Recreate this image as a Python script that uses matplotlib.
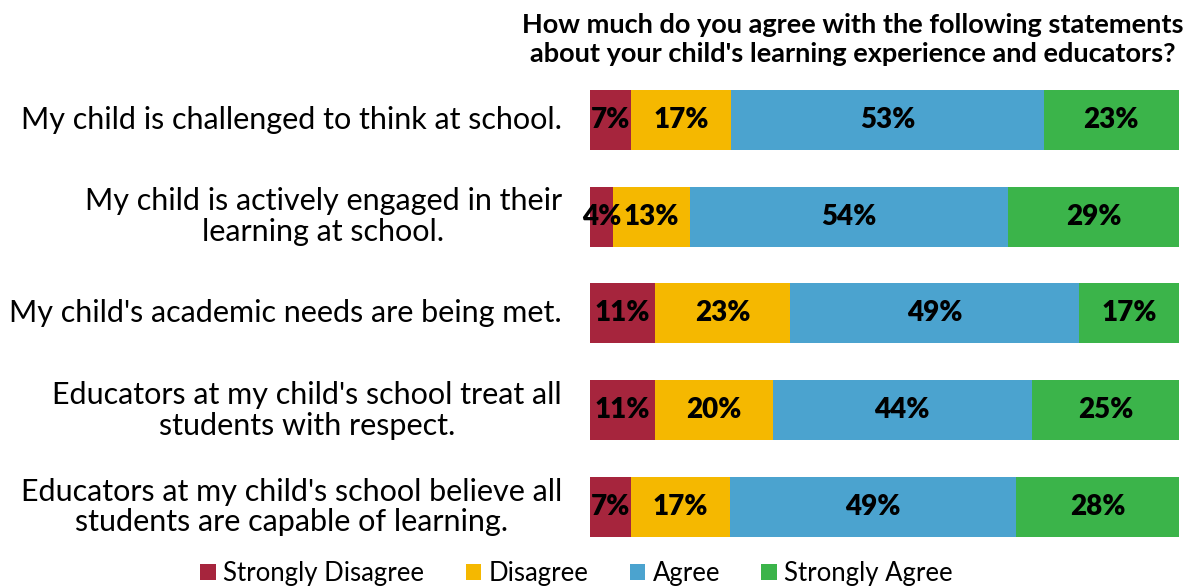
import matplotlib.pyplot as plt
import numpy as np
from matplotlib.patches import Patch

# survey statements, top to bottom
statements = [
    "My child is challenged to think at school.",
    "My child is actively engaged in their\nlearning at school.",
    "My child's academic needs are being met.",
    "Educators at my child's school treat all\nstudents with respect.",
    "Educators at my child's school believe all\nstudents are capable of learning.",
]

# percentages per response level
strongly_disagree = [7, 4, 11, 11, 7]
disagree = [17, 13, 23, 20, 17]
agree = [53, 54, 49, 44, 49]
strongly_agree = [23, 29, 17, 25, 28]

levels = ["Strongly Disagree", "Disagree", "Agree", "Strongly Agree"]
colors = ["#A6253D", "#F5B800", "#4BA3CF", "#3BB44A"]

title = ("How much do you agree with the following statements\n"
         "about your child's learning experience and educators?")

plt.rcParams['font.family'] = ['Lato', 'DejaVu Sans']

fig = plt.figure(figsize=(11.94, 5.87), dpi=100)
ax = fig.add_axes([0.494, 0.054, 0.4935, 0.824])

series = [strongly_disagree, disagree, agree, strongly_agree]
data = np.array(series, dtype=float)
totals = data.sum(axis=0)
y = np.arange(len(statements))

left = np.zeros(len(statements))
for vals, raw, c in zip(data, series, colors):
    widths = vals / totals * 100
    ax.barh(y, widths, left=left, height=0.62, color=c, edgecolor="none")
    for yi, lft, w, r in zip(y, left, widths, raw):
        ax.text(lft + w / 2, yi, f"{r}%", ha="center", va="center",
                fontsize=20, fontweight="heavy", color="black")
    left += widths

ax.set_xlim(0, 100)
ax.set_ylim(len(statements) - 0.5, -0.5)
ax.set_yticks([])
ax.set_xticks([])
for s in ax.spines.values():
    s.set_visible(False)

# category labels, right aligned with centred lines
for yi, s in zip(y, statements):
    ax.annotate(s, xy=(0, yi), xycoords=("axes fraction", "data"),
                xytext=(-20, 0), textcoords="offset points",
                ha="right", va="center", multialignment="center",
                fontsize=22, linespacing=1.12)

fig.text(0.991, 0.978, title, ha="right", va="top", fontsize=19.5,
         fontweight="bold", linespacing=1.25, multialignment="center",
         family=['Liberation Sans Narrow', 'Lato', 'DejaVu Sans'])

handles = [Patch(facecolor=c, label=l) for c, l in zip(colors, levels)]
fig.legend(handles=handles, loc="center", bbox_to_anchor=(0.483, 0.023),
           ncol=4, frameon=False, fontsize=18.5, handlelength=0.6,
           handleheight=0.6, handletextpad=0.3, columnspacing=1.6)

fig.savefig("out.png", dpi=100)
